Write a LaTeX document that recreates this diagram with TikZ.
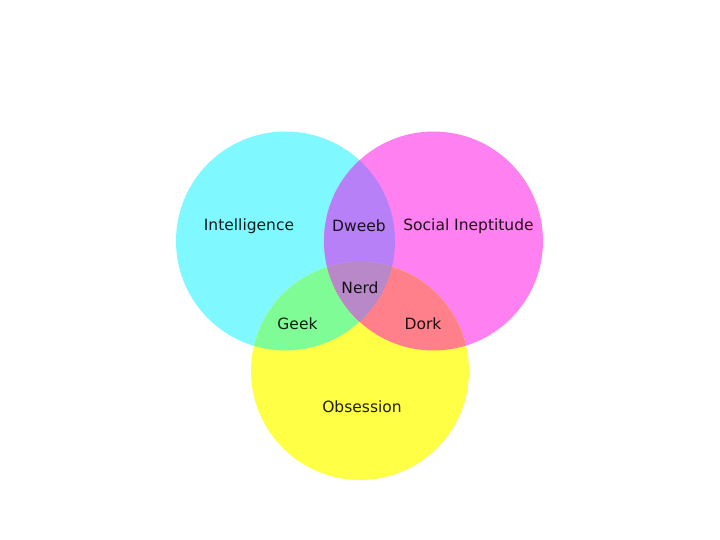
\documentclass[tikz,border=0pt]{standalone}
\usepackage{fontspec}
\setmainfont{DejaVu Sans}

\definecolor{ciano}{RGB}{128,248,255}
\definecolor{magenta2}{RGB}{255,128,240}
\definecolor{giallo}{RGB}{255,255,70}
\definecolor{viola}{RGB}{184,128,246}
\definecolor{verde}{RGB}{128,252,150}
\definecolor{rosa}{RGB}{255,128,138}
\definecolor{lilla}{RGB}{184,136,200}

\begin{document}
\begin{tikzpicture}[x=1pt, y=-1pt]
	% Stile per le etichette
	\tikzset{etichetta/.style={font=\fontsize{15.5}{17}\selectfont, text=black, text opacity=0.88, inner sep=1pt}}
	
	% Cornice (720 x 540)
	\useasboundingbox (0,0) rectangle (720,540);
	\fill[white] (0,0) rectangle (720,540);
	
	% Centri dei cerchi
	\coordinate (C_int) at (285.5,241);
	\coordinate (C_soc) at (433.5,241);
	\coordinate (C_obs) at (360,371);
	
	% Cerchi pieni
	\fill[ciano]    (C_int) circle (109.5);
	\fill[magenta2] (C_soc) circle (109.5);
	\fill[giallo]   (C_obs) circle (109);
	
	% Intersezioni a due
	\begin{scope}
		\clip (C_int) circle (109.5);
		\fill[viola] (C_soc) circle (109.5);
	\end{scope}
	\begin{scope}
		\clip (C_int) circle (109.5);
		\fill[verde] (C_obs) circle (109);
	\end{scope}
	\begin{scope}
		\clip (C_soc) circle (109.5);
		\fill[rosa] (C_obs) circle (109);
	\end{scope}
	
	% Intersezione centrale
	\begin{scope}
		\clip (C_int) circle (109.5);
		\clip (C_soc) circle (109.5);
		\fill[lilla] (C_obs) circle (109);
	\end{scope}
	
	% Etichette
	\node[etichetta] (intel)  at (249,226)   {Intelligence};
	\node[etichetta] (dweeb)  at (359,226)   {Dweeb};
	\node[etichetta] (social) at (468.5,226) {Social Ineptitude};
	\node[etichetta] (nerd)   at (360,288)   {Nerd};
	\node[etichetta] (geek)   at (297.5,324) {Geek};
	\node[etichetta] (dork)   at (423,324)   {Dork};
	\node[etichetta] (obs)    at (362,407)   {Obsession};
	
\end{tikzpicture}
\end{document}
